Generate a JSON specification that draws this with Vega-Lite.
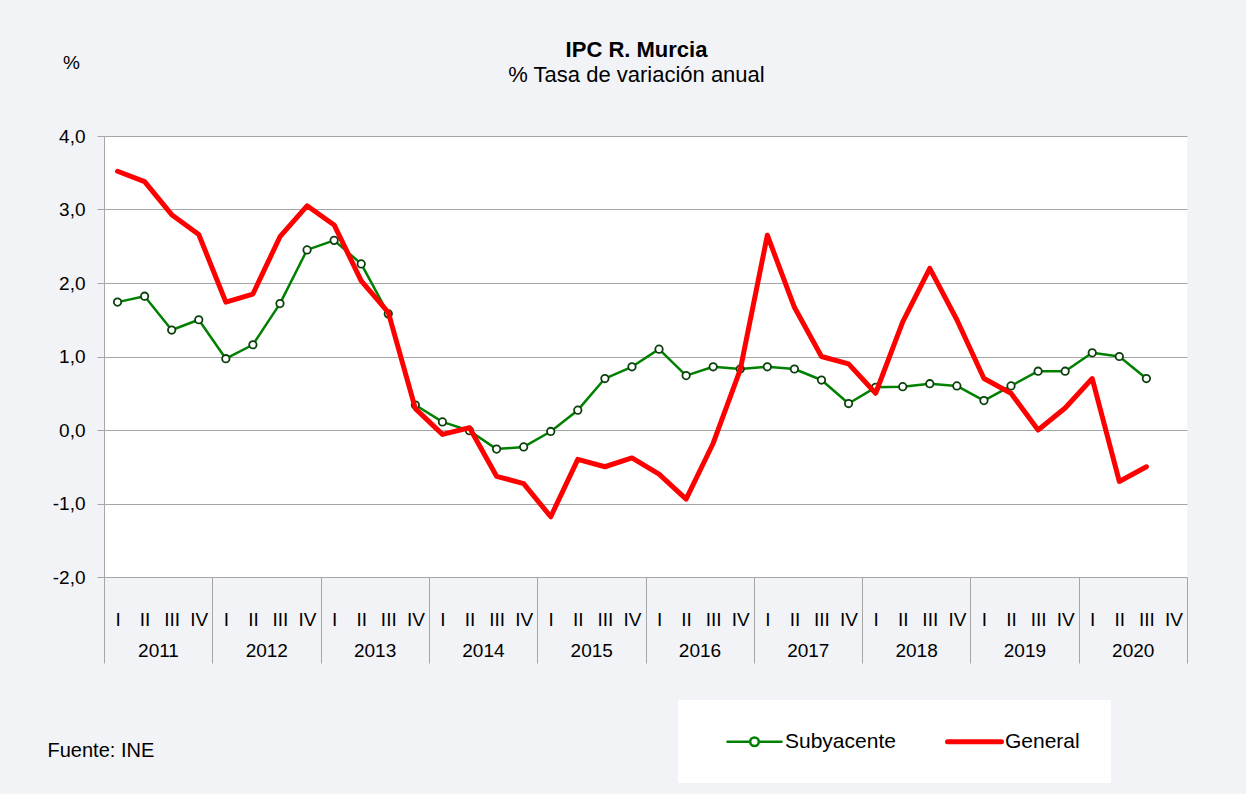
{
  "$schema": "https://vega.github.io/schema/vega-lite/v6.json",
  "autosize": "none",
  "width": 1083,
  "height": 441,
  "padding": {"left": 104, "top": 136, "right": 59, "bottom": 217},
  "background": "#f2f3f7",
  "config": {
    "view": {"fill": "white", "stroke": null},
    "font": "Liberation Sans",
    "axis": {"labelFont": "Liberation Sans", "labelColor": "#000", "titleFont": "Liberation Sans", "titleColor": "#000"}
  },
  "title": {
    "text": "IPC R. Murcia",
    "subtitle": "% Tasa de variación anual",
    "anchor": "middle",
    "frame": "group",
    "font": "Liberation Sans",
    "fontSize": 22,
    "fontWeight": "bold",
    "color": "#000",
    "subtitleFont": "Liberation Sans",
    "subtitleFontSize": 22,
    "subtitleColor": "#000",
    "subtitlePadding": 3,
    "offset": -34,
    "dx": -9
  },
  "data": {"values": [
    {"periodo": 2011.125, "serie": "General", "valor": 3.52},
    {"periodo": 2011.375, "serie": "General", "valor": 3.38},
    {"periodo": 2011.625, "serie": "General", "valor": 2.93},
    {"periodo": 2011.875, "serie": "General", "valor": 2.66},
    {"periodo": 2012.125, "serie": "General", "valor": 1.74},
    {"periodo": 2012.375, "serie": "General", "valor": 1.85},
    {"periodo": 2012.625, "serie": "General", "valor": 2.63},
    {"periodo": 2012.875, "serie": "General", "valor": 3.05},
    {"periodo": 2013.125, "serie": "General", "valor": 2.79},
    {"periodo": 2013.375, "serie": "General", "valor": 2.03},
    {"periodo": 2013.625, "serie": "General", "valor": 1.6},
    {"periodo": 2013.875, "serie": "General", "valor": 0.29},
    {"periodo": 2014.125, "serie": "General", "valor": -0.06},
    {"periodo": 2014.375, "serie": "General", "valor": 0.03},
    {"periodo": 2014.625, "serie": "General", "valor": -0.63},
    {"periodo": 2014.875, "serie": "General", "valor": -0.73},
    {"periodo": 2015.125, "serie": "General", "valor": -1.18},
    {"periodo": 2015.375, "serie": "General", "valor": -0.4},
    {"periodo": 2015.625, "serie": "General", "valor": -0.5},
    {"periodo": 2015.875, "serie": "General", "valor": -0.38},
    {"periodo": 2016.125, "serie": "General", "valor": -0.6},
    {"periodo": 2016.375, "serie": "General", "valor": -0.94},
    {"periodo": 2016.625, "serie": "General", "valor": -0.18},
    {"periodo": 2016.875, "serie": "General", "valor": 0.82},
    {"periodo": 2017.125, "serie": "General", "valor": 2.65},
    {"periodo": 2017.375, "serie": "General", "valor": 1.67},
    {"periodo": 2017.625, "serie": "General", "valor": 1.0},
    {"periodo": 2017.875, "serie": "General", "valor": 0.9},
    {"periodo": 2018.125, "serie": "General", "valor": 0.5},
    {"periodo": 2018.375, "serie": "General", "valor": 1.47},
    {"periodo": 2018.625, "serie": "General", "valor": 2.2},
    {"periodo": 2018.875, "serie": "General", "valor": 1.5},
    {"periodo": 2019.125, "serie": "General", "valor": 0.7},
    {"periodo": 2019.375, "serie": "General", "valor": 0.5},
    {"periodo": 2019.625, "serie": "General", "valor": 0.0},
    {"periodo": 2019.875, "serie": "General", "valor": 0.3},
    {"periodo": 2020.125, "serie": "General", "valor": 0.7},
    {"periodo": 2020.375, "serie": "General", "valor": -0.7},
    {"periodo": 2020.625, "serie": "General", "valor": -0.5},
    {"periodo": 2011.125, "serie": "Subyacente", "valor": 1.74},
    {"periodo": 2011.375, "serie": "Subyacente", "valor": 1.82},
    {"periodo": 2011.625, "serie": "Subyacente", "valor": 1.36},
    {"periodo": 2011.875, "serie": "Subyacente", "valor": 1.5},
    {"periodo": 2012.125, "serie": "Subyacente", "valor": 0.97},
    {"periodo": 2012.375, "serie": "Subyacente", "valor": 1.16},
    {"periodo": 2012.625, "serie": "Subyacente", "valor": 1.72},
    {"periodo": 2012.875, "serie": "Subyacente", "valor": 2.45},
    {"periodo": 2013.125, "serie": "Subyacente", "valor": 2.58},
    {"periodo": 2013.375, "serie": "Subyacente", "valor": 2.26},
    {"periodo": 2013.625, "serie": "Subyacente", "valor": 1.58},
    {"periodo": 2013.875, "serie": "Subyacente", "valor": 0.34},
    {"periodo": 2014.125, "serie": "Subyacente", "valor": 0.11},
    {"periodo": 2014.375, "serie": "Subyacente", "valor": -0.01},
    {"periodo": 2014.625, "serie": "Subyacente", "valor": -0.26},
    {"periodo": 2014.875, "serie": "Subyacente", "valor": -0.23},
    {"periodo": 2015.125, "serie": "Subyacente", "valor": -0.02},
    {"periodo": 2015.375, "serie": "Subyacente", "valor": 0.27},
    {"periodo": 2015.625, "serie": "Subyacente", "valor": 0.7},
    {"periodo": 2015.875, "serie": "Subyacente", "valor": 0.86},
    {"periodo": 2016.125, "serie": "Subyacente", "valor": 1.1},
    {"periodo": 2016.375, "serie": "Subyacente", "valor": 0.74},
    {"periodo": 2016.625, "serie": "Subyacente", "valor": 0.86},
    {"periodo": 2016.875, "serie": "Subyacente", "valor": 0.83},
    {"periodo": 2017.125, "serie": "Subyacente", "valor": 0.86},
    {"periodo": 2017.375, "serie": "Subyacente", "valor": 0.83},
    {"periodo": 2017.625, "serie": "Subyacente", "valor": 0.68},
    {"periodo": 2017.875, "serie": "Subyacente", "valor": 0.36},
    {"periodo": 2018.125, "serie": "Subyacente", "valor": 0.58},
    {"periodo": 2018.375, "serie": "Subyacente", "valor": 0.59},
    {"periodo": 2018.625, "serie": "Subyacente", "valor": 0.63},
    {"periodo": 2018.875, "serie": "Subyacente", "valor": 0.6},
    {"periodo": 2019.125, "serie": "Subyacente", "valor": 0.4},
    {"periodo": 2019.375, "serie": "Subyacente", "valor": 0.6},
    {"periodo": 2019.625, "serie": "Subyacente", "valor": 0.8},
    {"periodo": 2019.875, "serie": "Subyacente", "valor": 0.8},
    {"periodo": 2020.125, "serie": "Subyacente", "valor": 1.05},
    {"periodo": 2020.375, "serie": "Subyacente", "valor": 1.0},
    {"periodo": 2020.625, "serie": "Subyacente", "valor": 0.7}
  ]},
  "encoding": {
    "y": {
      "field": "valor",
      "type": "quantitative",
      "scale": {"domain": [-2, 4], "nice": false, "zero": false},
      "axis": {
        "title": "%",
        "titleAngle": 0,
        "titleX": -33,
        "titleY": -74,
        "titleAlign": "center",
        "titleBaseline": "middle",
        "titleFontSize": 19,
        "titleFontWeight": "normal",
        "values": [-2, -1, 0, 1, 2, 3, 4],
        "labelExpr": "(datum.value < 0 ? '-' : '') + replace(format(abs(datum.value), '.1f'), '.', ',')",
        "labelFontSize": 19,
        "labelPadding": 12,
        "tickSize": 7,
        "tickColor": "#a6a6a6",
        "domainColor": "#a6a6a6",
        "grid": true,
        "gridColor": "#a6a6a6",
        "gridWidth": 1,
        "labelOverlap": false,
        "labelFlush": false
      }
    }
  },
  "layer": [
    {
      "transform": [{"filter": "datum.serie === 'Subyacente'"}],
      "mark": {"type": "line", "strokeWidth": 2.5, "strokeJoin": "round"},
      "encoding": {
        "x": {
          "field": "periodo",
          "type": "quantitative",
          "scale": {"domain": [2011, 2021], "nice": false, "zero": false},
          "axis": {
            "orient": "bottom",
            "values": [2011.125, 2011.375, 2011.625, 2011.875, 2012.125, 2012.375, 2012.625, 2012.875, 2013.125, 2013.375, 2013.625, 2013.875, 2014.125, 2014.375, 2014.625, 2014.875, 2015.125, 2015.375, 2015.625, 2015.875, 2016.125, 2016.375, 2016.625, 2016.875, 2017.125, 2017.375, 2017.625, 2017.875, 2018.125, 2018.375, 2018.625, 2018.875, 2019.125, 2019.375, 2019.625, 2019.875, 2020.125, 2020.375, 2020.625, 2020.875],
            "labelExpr": "['I','II','III','IV'][floor((datum.value % 1) * 4)]",
            "ticks": false,
            "tickSize": 0,
            "domain": false,
            "grid": false,
            "labelFontSize": 19,
            "labelPadding": 42,
            "labelBaseline": "middle",
            "labelAngle": 0,
            "labelFlush": false,
            "labelOverlap": false,
            "title": "Fuente: INE",
            "titleX": -57,
            "titleY": 173,
            "titleAlign": "left",
            "titleBaseline": "middle",
            "titleFontSize": 20,
            "titleFontWeight": "normal"
          }
        },
        "color": {
          "field": "serie",
          "type": "nominal",
          "scale": {"domain": ["Subyacente", "General"], "range": ["#008000", "#ff0000"]},
          "legend": {
            "orient": "none",
            "legendX": 574,
            "legendY": 564,
            "direction": "horizontal",
            "title": "\u00a0",
            "titleOrient": "left",
            "titleFontSize": 10,
            "titlePadding": 35,
            "fillColor": "white",
            "padding": 31,
            "symbolType": "stroke",
            "symbolSize": 2916,
            "labelFontSize": 21,
            "labelFont": "Liberation Sans",
            "labelColor": "#000",
            "labelOffset": 20,
            "columnPadding": 41,
            "labelLimit": 300,
            "encode": {
              "symbols": {
                "update": {
                  "shape": {"signal": "datum.value === 'Subyacente' ? 'M-1,0H-0.16M0.16,0H1M0.16,0A0.16,0.16,0,1,1,-0.16,0A0.16,0.16,0,1,1,0.16,0' : 'stroke'"},
                  "strokeWidth": {"signal": "datum.value === 'General' ? 5 : 2.5"},
                  "strokeCap": {"value": "round"},
                  "fill": {"value": "white"}
                }
              }
            }
          }
        }
      }
    },
    {
      "transform": [{"filter": "datum.serie === 'Subyacente'"}],
      "mark": {"type": "point", "filled": true, "fill": "white", "stroke": "#0b3f0b", "strokeWidth": 1.8, "size": 55, "opacity": 1},
      "encoding": {
        "x": {"field": "periodo", "type": "quantitative", "axis": null}
      }
    },
    {
      "transform": [{"filter": "datum.serie === 'General'"}],
      "mark": {"type": "line", "strokeWidth": 5, "strokeJoin": "round", "strokeCap": "round"},
      "encoding": {
        "x": {
          "field": "periodo",
          "type": "quantitative",
          "axis": {
            "orient": "bottom",
            "values": [2011, 2012, 2013, 2014, 2015, 2016, 2017, 2018, 2019, 2020, 2021],
            "labelExpr": "datum.value > 2020 ? '' : '' + datum.value",
            "ticks": true,
            "tickSize": 86,
            "tickColor": "#a6a6a6",
            "tickWidth": 1,
            "domain": false,
            "grid": false,
            "labelOffset": 54,
            "labelPadding": -13,
            "labelBaseline": "middle",
            "labelAngle": 0,
            "labelFontSize": 19,
            "labelFlush": false,
            "labelOverlap": false,
            "title": null
          }
        },
        "color": {"field": "serie", "type": "nominal"}
      }
    }
  ],
  "resolve": {"axis": {"x": "independent"}}
}
